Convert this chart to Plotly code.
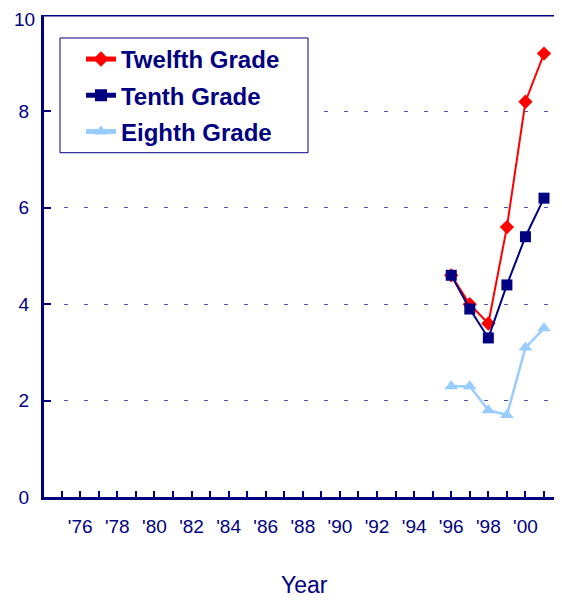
import plotly.graph_objects as go

years = [1996, 1997, 1998, 1999, 2000, 2001]
twelfth = [4.6, 4.0, 3.6, 5.6, 8.2, 9.2]
tenth = [4.6, 3.9, 3.3, 4.4, 5.4, 6.2]
eighth = [2.3, 2.3, 1.8, 1.7, 3.1, 3.5]

tick_years = list(range(1975, 2002))
tick_text = ["'%02d" % (y % 100) if (y % 2 == 0 and y <= 2000) else "" for y in tick_years]
y_ticks = [0, 2, 4, 6, 8, 10]
y_top = y_ticks[-1]
y_ticktext = [str(v) if v != y_top else "" for v in y_ticks]

NAVY = "#000080"
FONT = "Liberation Sans, Arial, sans-serif"

fig = go.Figure()
fig.add_trace(go.Scatter(x=years, y=twelfth, name="Twelfth Grade", mode="lines+markers",
                         line=dict(color="#ff0000", width=2),
                         marker=dict(symbol="diamond", size=11, color="#ff0000"),
                         legendgroup="a"))
fig.add_trace(go.Scatter(x=years, y=tenth, name="Tenth Grade", mode="lines+markers",
                         line=dict(color=NAVY, width=2),
                         marker=dict(symbol="square", size=11, color=NAVY),
                         legendgroup="b"))
fig.add_trace(go.Scatter(x=years, y=eighth, name="Eighth Grade", mode="lines+markers",
                         line=dict(color="#99ccff", width=2.5),
                         marker=dict(symbol="triangle-up", size=12, color="#99ccff"),
                         legendgroup="c"))

fig.update_layout(
    width=554, height=592,
    margin=dict(l=36, r=0, t=7, b=103, autoexpand=False),
    paper_bgcolor="white", plot_bgcolor="white",
    font=dict(family=FONT, color=NAVY),
    showlegend=True,
    legend=dict(x=0.0714, y=0.9545, xanchor="left", yanchor="top",
                borderwidth=0, bgcolor="rgba(0,0,0,0)",
                font=dict(size=24, color=NAVY, family=FONT, weight="bold"),
                traceorder="grouped", tracegroupgap=2,
                itemwidth=30, itemsizing="constant"),
    xaxis=dict(range=[1974.05, 2001.97], tickmode="array", tickvals=tick_years, ticktext=tick_text,
               ticks="inside", ticklen=6, tickwidth=2, tickcolor=NAVY,
               showline=True, linecolor=NAVY, linewidth=3, mirror=False,
               showgrid=False, zeroline=False, automargin=False,
               tickfont=dict(size=19, color=NAVY), ticklabelstandoff=10),
    yaxis=dict(range=[0, 10], tickmode="array", tickvals=y_ticks, ticktext=y_ticktext,
               ticks="inside", ticklen=7, tickwidth=2, tickcolor=NAVY,
               showline=True, linecolor=NAVY, linewidth=3,
               showgrid=True, gridcolor="#5050a8", gridwidth=1, griddash="4px,16px",
               zeroline=False, automargin=False,
               tickfont=dict(size=19, color=NAVY), ticklabelstandoff=8),
    shapes=[dict(type="line", xref="paper", yref="y", x0=0, x1=1, y0=10, y1=10,
                 line=dict(color=NAVY, width=3)),
            dict(type="rect", xref="paper", yref="paper", x0=0.0309, x1=0.5097,
                 y0=0.7143, y1=0.9523, fillcolor="white", layer="above",
                 line=dict(color=NAVY, width=1))],
    annotations=[dict(text="Year", xref="paper", yref="paper", x=0.502, y=-0.1826,
                      xanchor="center", yanchor="middle", showarrow=False,
                      font=dict(size=23, color=NAVY, family=FONT)),
                 dict(text=str(y_top), xref="paper", yref="paper", x=0, y=1 + 7 / 482,
                      xanchor="right", yanchor="top", xshift=-8, borderpad=0,
                      showarrow=False, font=dict(size=19, color=NAVY, family=FONT))],
)

fig.write_html("out.html")
